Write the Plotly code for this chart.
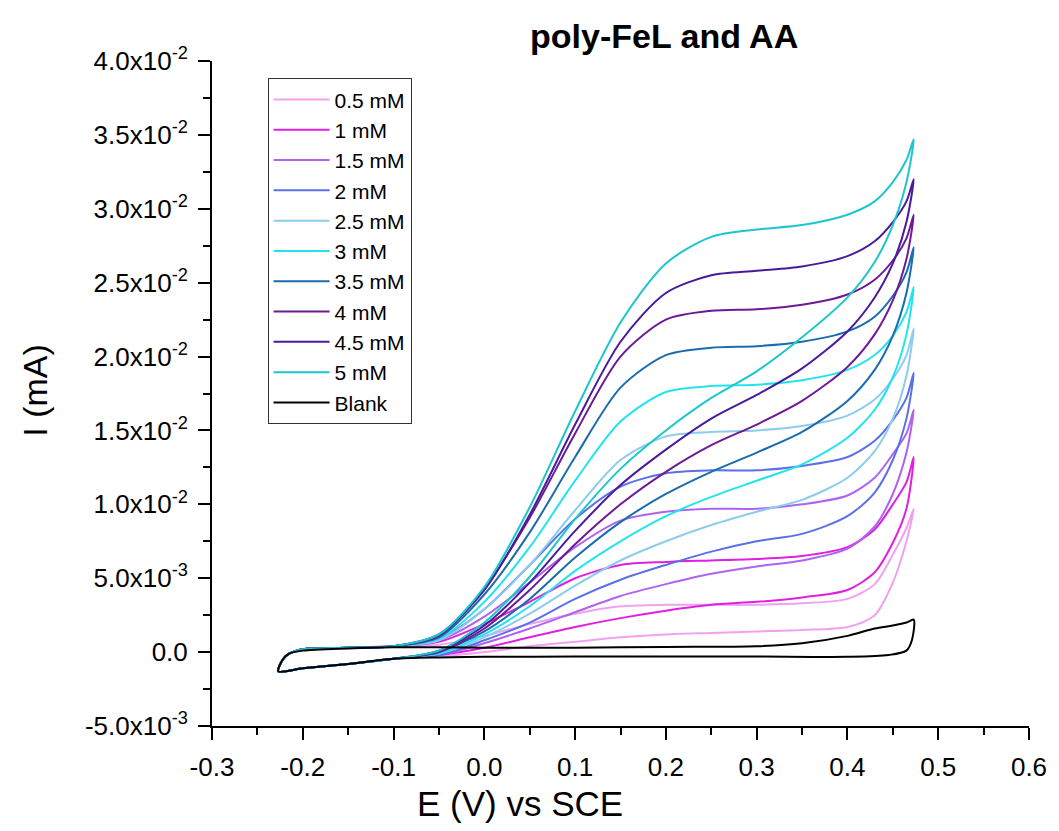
import plotly.graph_objects as go

# ---------------- data ----------------
series_names = ["0.5 mM", "1 mM", "1.5 mM", "2 mM", "2.5 mM", "3 mM",
                "3.5 mM", "4 mM", "4.5 mM", "5 mM"]
series_colors = ["#F0A2F0", "#E020E0", "#B062F0", "#5A70E8", "#8CCCEE",
                 "#22E4EE", "#1A6CAC", "#6E1A96", "#4A1A9C", "#1CC6CA"]

# potential grid of the upper (plateau) branch, left vertex -> right vertex
E_up = [-0.227, -0.222, -0.215, -0.2, -0.15, -0.1, -0.05, 0.0, 0.05, 0.1,
        0.15, 0.2, 0.25, 0.3, 0.35, 0.4, 0.43, 0.45, 0.465, 0.473]
# potential grid of the lower (gradual) branch, right vertex -> left vertex
E_dn = [0.473, 0.465, 0.45, 0.43, 0.4, 0.35, 0.3, 0.25, 0.2, 0.15, 0.1,
        0.05, 0.0, -0.05, -0.1, -0.15, -0.2, -0.227]

up_05 = [-0.0013, -0.0005, -0.0001, 0.0002, 0.0003, 0.0004, 0.0005, 0.0011, 0.0019, 0.0026,
         0.0031, 0.0032, 0.0032, 0.0032, 0.0033, 0.0036, 0.0046, 0.0066, 0.0084, 0.0097]
up_1 = [-0.0013, -0.0005, -0.0001, 0.0002, 0.0003, 0.0004, 0.0007, 0.0019, 0.0034, 0.0050,
        0.0059, 0.0061, 0.0062, 0.0063, 0.0065, 0.0071, 0.0083, 0.0100, 0.0115, 0.0132]
up_15 = [-0.0013, -0.0005, -0.0001, 0.0002, 0.0003, 0.0004, 0.0008, 0.0024, 0.0047, 0.0071,
         0.0089, 0.0095, 0.0097, 0.0097, 0.0100, 0.0106, 0.0118, 0.0134, 0.0148, 0.0164]
up_2 = [-0.0013, -0.0005, -0.0001, 0.0002, 0.0003, 0.0004, 0.0009, 0.0029, 0.0059, 0.0090,
        0.0112, 0.0121, 0.0123, 0.0123, 0.0126, 0.0132, 0.0143, 0.0157, 0.0172, 0.0189]
up_25 = [-0.0013, -0.0005, -0.0001, 0.0002, 0.0003, 0.0004, 0.0008, 0.0029, 0.0059, 0.0096,
         0.0130, 0.0146, 0.0149, 0.0150, 0.0153, 0.0160, 0.0171, 0.0185, 0.0201, 0.0219]
up_3 = [-0.0013, -0.0005, -0.0001, 0.0002, 0.0003, 0.0004, 0.0009, 0.0034, 0.0071, 0.0116,
        0.0156, 0.0176, 0.0180, 0.0181, 0.0184, 0.0191, 0.0201, 0.0214, 0.0230, 0.0247]
up_35 = [-0.0013, -0.0005, -0.0001, 0.0002, 0.0003, 0.0004, 0.0010, 0.0039, 0.0081, 0.0132,
         0.0179, 0.0201, 0.0206, 0.0207, 0.0210, 0.0217, 0.0227, 0.0241, 0.0257, 0.0274]
up_4 = [-0.0013, -0.0005, -0.0001, 0.0002, 0.0003, 0.0004, 0.0011, 0.0043, 0.0091, 0.0148,
        0.0200, 0.0225, 0.0231, 0.0232, 0.0235, 0.0242, 0.0252, 0.0265, 0.0280, 0.0296]
up_45 = [-0.0013, -0.0005, -0.0001, 0.0002, 0.0003, 0.0004, 0.0012, 0.0042, 0.0093, 0.0154,
         0.0210, 0.0243, 0.0255, 0.0258, 0.0261, 0.0268, 0.0278, 0.0291, 0.0305, 0.0320]
up_5 = [-0.0013, -0.0005, -0.0001, 0.0002, 0.0003, 0.0004, 0.0012, 0.0044, 0.0098, 0.0163,
        0.0223, 0.0263, 0.0281, 0.0286, 0.0289, 0.0296, 0.0305, 0.0318, 0.0333, 0.0347]

dn_05 = [0.0097, 0.0075, 0.0047, 0.0025, 0.0017, 0.0015, 0.0014, 0.0013, 0.0012, 0.0010,
         0.0007, 0.0004, 0.0000, -0.0003, -0.00045, -0.0008, -0.0011, -0.0013]
dn_1 = [0.0132, 0.0097, 0.0074, 0.0054, 0.0042, 0.0037, 0.0034, 0.0032, 0.0028, 0.0023,
        0.0017, 0.0010, 0.0003, -0.0002, -0.00045, -0.0008, -0.0011, -0.0013]
dn_15 = [0.0164, 0.0135, 0.0107, 0.0085, 0.0070, 0.0062, 0.0058, 0.0053, 0.0046, 0.0038,
         0.0027, 0.0016, 0.0006, -0.0002, -0.00045, -0.0008, -0.0011, -0.0013]
dn_2 = [0.0189, 0.0158, 0.0130, 0.0108, 0.0092, 0.0080, 0.0075, 0.0068, 0.0059, 0.0049,
        0.0036, 0.0020, 0.0008, -0.0002, -0.00045, -0.0008, -0.0011, -0.0013]
dn_25 = [0.0219, 0.0187, 0.0158, 0.0136, 0.0118, 0.0103, 0.0095, 0.0086, 0.0075, 0.0062,
         0.0045, 0.0026, 0.0010, -0.0001, -0.00045, -0.0008, -0.0011, -0.0013]
dn_3 = [0.0247, 0.0215, 0.0186, 0.0164, 0.0145, 0.0127, 0.0116, 0.0105, 0.0092, 0.0075,
        0.0055, 0.0031, 0.0012, -0.0001, -0.00045, -0.0008, -0.0011, -0.0013]
dn_35 = [0.0274, 0.0243, 0.0214, 0.0191, 0.0170, 0.0149, 0.0135, 0.0122, 0.0107, 0.0088,
         0.0064, 0.0036, 0.0014, 0.0000, -0.00045, -0.0008, -0.0011, -0.0013]
dn_4 = [0.0296, 0.0266, 0.0238, 0.0215, 0.0193, 0.0170, 0.0154, 0.0140, 0.0122, 0.0100,
        0.0073, 0.0042, 0.0016, 0.0000, -0.00045, -0.0008, -0.0011, -0.0013]
dn_45 = [0.0320, 0.0291, 0.0263, 0.0240, 0.0217, 0.0192, 0.0174, 0.0158, 0.0137, 0.0113,
         0.0082, 0.0047, 0.0018, 0.0001, -0.00045, -0.0008, -0.0011, -0.0013]
dn_5 = [0.0347, 0.0318, 0.0289, 0.0264, 0.0240, 0.0213, 0.0190, 0.0172, 0.0150, 0.0124,
        0.0090, 0.0051, 0.0020, 0.0001, -0.00045, -0.0008, -0.0011, -0.0013]

E_blank_up = [-0.227, -0.222, -0.215, -0.2, -0.15, -0.1, -0.05, 0.0, 0.1, 0.2, 0.3,
              0.35, 0.4, 0.43, 0.45, 0.465, 0.473]
blank_up = [-0.0013, -0.0005, -0.0001, 0.0001, 0.00025, 0.00033, 0.00033, 0.0003, 0.0003,
            0.00035, 0.0004, 0.0006, 0.0011, 0.0016, 0.0018, 0.0020, 0.0022]
E_blank_dn = [0.473, 0.471, 0.465, 0.445, 0.4, 0.3, 0.2, 0.1, 0.0, -0.05, -0.1, -0.15,
              -0.2, -0.227]
blank_dn = [0.0021, 0.0008, 0.0001, -0.0002, -0.00032, -0.0003, -0.0003, -0.0003, -0.00032,
            -0.00036, -0.00045, -0.0008, -0.0011, -0.0013]

up_branches = [up_05, up_1, up_15, up_2, up_25, up_3, up_35, up_4, up_45, up_5]
dn_branches = [dn_05, dn_1, dn_15, dn_2, dn_25, dn_3, dn_35, dn_4, dn_45, dn_5]

y_tick_vals = [-0.005, 0.0, 0.005, 0.01, 0.015, 0.02, 0.025, 0.03, 0.035, 0.04]
y_tick_text = ["-5.0x10<sup>-3</sup>", "0.0", "5.0x10<sup>-3</sup>",
               "1.0x10<sup>-2</sup>", "1.5x10<sup>-2</sup>", "2.0x10<sup>-2</sup>",
               "2.5x10<sup>-2</sup>", "3.0x10<sup>-2</sup>", "3.5x10<sup>-2</sup>",
               "4.0x10<sup>-2</sup>"]
x_tick_vals = [-0.3, -0.2, -0.1, 0.0, 0.1, 0.2, 0.3, 0.4, 0.5, 0.6]
x_tick_text = ["-0.3", "-0.2", "-0.1", "0.0", "0.1", "0.2", "0.3", "0.4", "0.5", "0.6"]

# ---------------- figure ----------------
FONT = "Liberation Sans"
fig = go.Figure()

for name, color, up, dn in zip(series_names, series_colors, up_branches, dn_branches):
    fig.add_trace(go.Scatter(
        x=E_up + E_dn[1:], y=up + dn[1:], mode="lines", name=name,
        line=dict(color=color, width=2, shape="spline", smoothing=0.8),
    ))

fig.add_trace(go.Scatter(
    x=E_blank_up + E_blank_dn[1:], y=blank_up + blank_dn[1:], mode="lines", name="Blank",
    line=dict(color="black", width=2, shape="spline", smoothing=0.8),
))

axis_common = dict(
    showline=True, linewidth=2, linecolor="black", mirror=False,
    ticks="outside", ticklen=12, tickwidth=2, tickcolor="black",
    showgrid=False, zeroline=False, ticklabelstandoff=5,
    tickfont=dict(family=FONT, size=26, color="black"),
)

fig.update_xaxes(
    range=[-0.3, 0.6], tickvals=x_tick_vals, ticktext=x_tick_text,
    minor=dict(ticks="outside", ticklen=7, tickwidth=2, tickcolor="black", dtick=0.05,
               tick0=-0.3, showgrid=False),
    **axis_common,
)
fig.update_yaxes(
    range=[-0.005, 0.04], tickvals=y_tick_vals, ticktext=y_tick_text,
    minor=dict(ticks="outside", ticklen=7, tickwidth=2, tickcolor="black", dtick=0.0025,
               tick0=0, showgrid=False),
    **axis_common,
)

fig.update_layout(
    width=1059, height=831,
    margin=dict(l=212, r=22, t=61, b=105),
    paper_bgcolor="white", plot_bgcolor="white",
    showlegend=True,
    legend=dict(
        x=0.068, y=0.974, xanchor="left", yanchor="top",
        bgcolor="white", bordercolor="#333333", borderwidth=1,
        font=dict(family=FONT, size=21, color="black"),
        tracegroupgap=0, itemwidth=56,
    ),
    annotations=[
        dict(text="<b>poly-FeL and AA</b>", xref="paper", yref="paper",
             x=0.553, y=(831 - 36 - 105) / 665.0, xanchor="center", yanchor="middle",
             showarrow=False, font=dict(family=FONT, size=34, color="black")),
        dict(text="E (V) vs SCE", xref="paper", yref="paper",
             x=0.377, y=-(803 - 726) / 665.0, xanchor="center", yanchor="middle",
             showarrow=False, font=dict(family=FONT, size=35, color="black")),
        dict(text="I (mA)", xref="paper", yref="paper",
             x=-(212 - 33) / 825.0, y=(726 - 390) / 665.0, xanchor="center", yanchor="middle",
             textangle=-90, showarrow=False, font=dict(family=FONT, size=34, color="black")),
    ],
)

fig.write_html("out.html")
